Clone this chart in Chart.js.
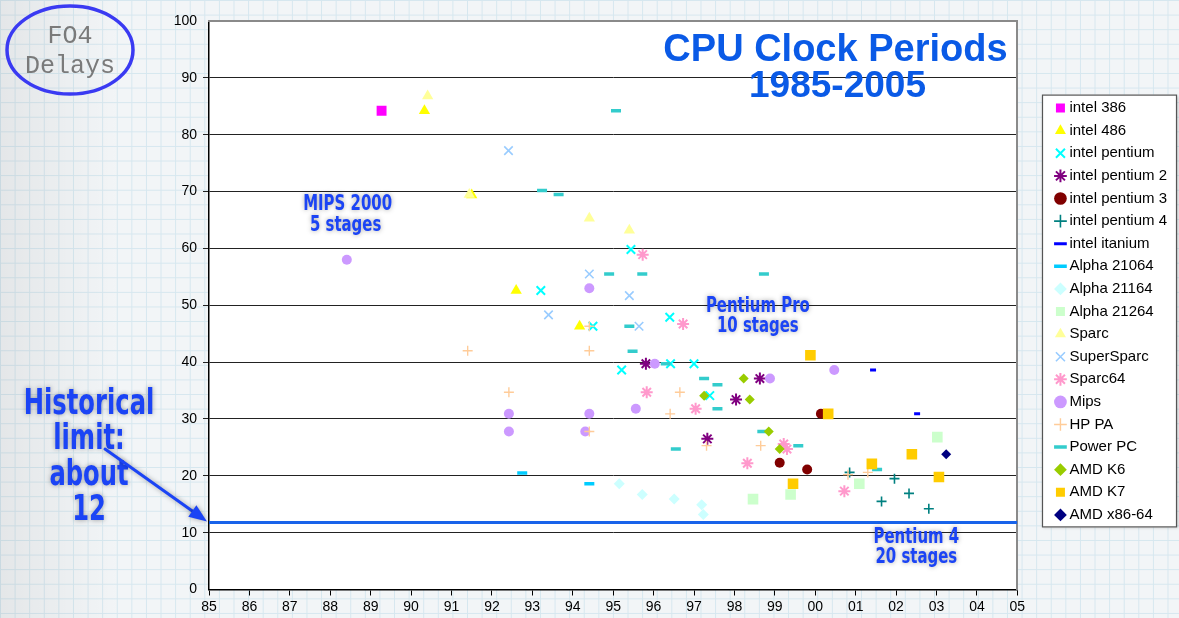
<!DOCTYPE html>
<html><head><meta charset="utf-8">
<script src="https://cdn.jsdelivr.net/npm/chart.js@4/dist/chart.umd.min.js"></script>
<style>
html,body{margin:0;padding:0;width:1179px;height:618px;overflow:hidden;}
body{background-color:#f2f5f7;
background-image:linear-gradient(90deg, rgba(0,0,0,0.06), rgba(0,0,0,0) 120px),linear-gradient(#d6e7ef 1px, transparent 1px),linear-gradient(90deg,#d6e7ef 1px, transparent 1px);
background-size:100% 100%,14.6px 14.6px,14.6px 14.6px;}
#wrap{position:relative;width:1179px;height:618px;}
</style></head><body><div id="wrap"><canvas id="c" width="1179" height="618"></canvas></div>
<script>
// ---- data (year in 2-digit form continuing past 99: 100 = 2000) ----
const yearLabels = ['85','86','87','88','89','90','91','92','93','94','95','96','97','98','99','00','01','02','03','04','05'];
const yTicks = [0,10,20,30,40,50,60,70,80,90,100];
const seriesNames = ['intel 386','intel 486','intel pentium','intel pentium 2','intel pentium 3','intel pentium 4','intel itanium','Alpha 21064','Alpha 21164','Alpha 21264','Sparc','SuperSparc','Sparc64','Mips','HP PA','Power PC','AMD K6','AMD K7','AMD x86-64'];
const intel386 = [[89.27,84.2]];
const intel486 = [[90.33,84.2],[91.5,69.4],[92.6,52.6],[94.17,46.3]];
const intelPentium = [[93.21,52.6],[94.5,46.3],[95.21,38.6],[95.44,59.8],[96.4,47.9],[96.42,39.7],[97.0,39.7],[97.39,34.1]];
const intelPentium2 = [[95.81,39.7],[98.63,37.1],[98.04,33.4],[97.33,26.5]];
const intelPentium3 = [[99.12,22.3],[99.8,21.1],[100.14,30.9]];
const intelPentium4 = [[100.85,20.6],[101.96,19.5],[101.64,15.5],[102.32,16.9],[102.81,14.2]];
const intelItanium = [[101.43,38.6],[102.52,30.9]];
const alpha21064 = [[92.75,20.5],[94.41,18.6]];
const alpha21164 = [[95.15,18.6],[95.72,16.7],[96.51,15.9],[97.19,14.9],[97.23,13.2]];
const alpha21264 = [[98.46,15.9],[99.39,16.7],[101.09,18.6],[103.02,26.8]];
const sparc = [[90.41,86.8],[91.44,69.5],[94.41,65.3],[95.4,63.2]];
const superSparc = [[92.41,77.2],[94.41,55.5],[95.4,51.7],[93.4,48.3],[95.64,46.3]];
const sparc64 = [[95.73,58.9],[96.73,46.7],[95.83,34.7],[97.04,31.8],[98.32,22.2],[99.22,25.6],[99.3,24.7],[100.72,17.3]];
const mips = [[88.41,58.0],[94.41,53.0],[92.42,30.9],[92.42,27.8],[94.41,30.9],[94.31,27.8],[95.56,31.8],[96.03,39.7],[98.88,37.1],[100.47,38.6]];
const hpPA = [[91.4,42.0],[92.42,34.7],[94.41,42.0],[94.41,46.3],[94.41,27.8],[96.65,34.7],[96.41,30.9],[97.31,25.3],[98.65,25.3],[100.81,20.2],[101.3,20.6]];
const powerPC = [[95.07,84.2],[93.24,70.2],[93.65,69.5],[94.9,55.5],[95.72,55.5],[98.73,55.5],[95.4,46.3],[95.48,41.9],[96.3,39.7],[97.25,37.1],[97.58,36.0],[97.58,31.8],[96.55,24.7],[98.69,27.8],[99.58,25.3],[101.53,21.1]];
const amdK6 = [[97.25,34.1],[98.23,37.1],[98.38,33.4],[98.85,27.8],[99.12,24.7]];
const amdK7 = [[99.88,41.2],[100.32,30.9],[99.45,18.6],[101.4,22.1],[102.39,23.8],[103.06,19.8]];
const amdX8664 = [[103.24,23.8]];
const historicalLimit = 11.8;

const seriesValues = [intel386,intel486,intelPentium,intelPentium2,intelPentium3,intelPentium4,intelItanium,alpha21064,alpha21164,alpha21264,sparc,superSparc,sparc64,mips,hpPA,powerPC,amdK6,amdK7,amdX8664];
// ---- styles ----
const seriesColors = ['#ff00ff','#ffff00','#00ffff','#800080','#800000','#008080','#0000ff','#00ccff','#ccffff','#ccffcc','#ffff99','#99ccff','#ff99cc','#cc99ff','#ffcc99','#33cccc','#99cc00','#ffcc00','#000080'];
const seriesStyles = ['rect','triangle','crossRot','star','circle','cross','line','line','rectRot','rect','triangle','crossRot','star','circle','cross','line','rectRot','rect','rectRot'];
const seriesRadius = [7,6.5,6,6,5,5,3,5,5.5,7.5,6.5,6,6,5,5,5,5,7.5,5];
const seriesBorder = [0,0,2,2,0,1.6,3,3.5,0,0,0,1.6,2,0,1.4,3.5,0,0,0];

const N = seriesNames.length;
const datasets = seriesNames.map((name,i)=>({
  label: name,
  data: seriesValues[i].map(p=>({x:p[0],y:p[1]})),
  pointStyle: seriesStyles[i],
  pointRadius: seriesRadius[i],
  pointHoverRadius: seriesRadius[i],
  backgroundColor: seriesColors[i],
  borderColor: seriesColors[i],
  pointBorderWidth: seriesBorder[i],
  borderWidth: seriesBorder[i],
  order: N - i
}));
datasets.push({
  type:'line', label:'limit', data:[{x:85,y:historicalLimit},{x:105,y:historicalLimit}],
  borderColor:'#1863ea', borderWidth:3, pointRadius:0, order:100
});

const FONT = '"Liberation Sans", Arial, Helvetica, sans-serif';
const HAND = '"DejaVu Sans Condensed", "Liberation Sans", sans-serif';
const BLUE = '#1b44f5';

function handText(ctx, t, x, y, sx){
  ctx.save(); ctx.translate(x,y); ctx.scale(sx,1); ctx.fillText(t,0,0); ctx.restore();
}

const deco = {
  id:'deco',
  beforeDraw(chart){
    const {ctx, chartArea:a} = chart;
    ctx.save(); ctx.fillStyle='#ffffff'; ctx.fillRect(a.left,a.top,a.right-a.left,a.bottom-a.top); ctx.restore();
    // legend box
    const lg = chart.legend; const hb = lg.legendHitBoxes;
    if (hb && hb.length){
      const top = hb[0].top - 6, bot = hb[hb.length-1].top + hb[hb.length-1].height + 5;
      const left = 1042, right = 1177;
      ctx.save();
      ctx.shadowColor='rgba(0,0,0,0.25)'; ctx.shadowBlur=3; ctx.shadowOffsetX=1; ctx.shadowOffsetY=1;
      ctx.fillStyle='#ffffff'; ctx.fillRect(left,top,right-left,bot-top);
      ctx.restore();
      ctx.save(); ctx.strokeStyle='#555'; ctx.lineWidth=1.2; ctx.strokeRect(left+0.5,top+0.5,right-left-1,bot-top-1); ctx.restore();
    }
  },
  afterDraw(chart){
    const {ctx} = chart; const xs = chart.scales.x, ys = chart.scales.y;
    const X = v=>xs.getPixelForValue(v), Y = v=>ys.getPixelForValue(v);
    ctx.save();
    // title
    ctx.fillStyle='#0a5ae6'; ctx.textAlign='center'; ctx.textBaseline='alphabetic';
    ctx.font='bold 38px '+FONT;
    ctx.fillText('CPU Clock Periods', X(100.5), Y(92.9));
    ctx.font='bold 37px '+FONT;
    ctx.fillText('1985-2005', X(100.55), Y(86.7));
    // annotations
    ctx.shadowColor='rgba(0,0,0,0.35)'; ctx.shadowBlur=5;
    ctx.fillStyle=BLUE; ctx.textBaseline='middle';
    ctx.font='bold 21px '+HAND;
    const s1 = 0.79;
    handText(ctx,'MIPS 2000', X(88.43), Y(67.7), s1);
    handText(ctx,'5 stages', X(88.38), Y(64.0), s1);
    handText(ctx,'Pentium Pro', X(98.58), Y(49.7), s1);
    handText(ctx,'10 stages', X(98.58), Y(46.2), s1);
    handText(ctx,'Pentium 4', X(102.5), Y(9.2), s1);
    handText(ctx,'20 stages', X(102.5), Y(5.7), s1);
    ctx.font='bold 35px '+HAND;
    handText(ctx,'Historical', 89, 405, 0.77);
    handText(ctx,'limit:', 89, 440, 0.77);
    handText(ctx,'about', 89, 476, 0.77);
    handText(ctx,'12', 89, 511, 0.77);
    // arrow
    const tx = X(85)-2, ty = Y(historicalLimit)-1, sx = 105, sy = 449;
    const ang = Math.atan2(ty-sy, tx-sx);
    ctx.strokeStyle=BLUE; ctx.lineWidth=3; ctx.lineCap='round';
    ctx.beginPath(); ctx.moveTo(sx,sy); ctx.lineTo(tx-12*Math.cos(ang), ty-12*Math.sin(ang)); ctx.stroke();
    ctx.beginPath(); ctx.moveTo(tx,ty);
    ctx.lineTo(tx-18*Math.cos(ang)+7*Math.sin(ang), ty-18*Math.sin(ang)-7*Math.cos(ang));
    ctx.lineTo(tx-18*Math.cos(ang)-7*Math.sin(ang), ty-18*Math.sin(ang)+7*Math.cos(ang));
    ctx.closePath(); ctx.fill();
    ctx.shadowColor='transparent'; ctx.shadowBlur=0;
    // FO4 ellipse
    ctx.strokeStyle='#3a3af2'; ctx.lineWidth=3.5;
    ctx.beginPath(); ctx.ellipse(70,50,63,44,0,0,Math.PI*2); ctx.stroke();
    ctx.fillStyle='#7a7a7a'; ctx.font='25px "Liberation Mono", "Courier New", monospace';
    ctx.fillText('FO4', 70, 36); ctx.fillText('Delays', 70, 66);
    ctx.restore();
  }
};

new Chart(document.getElementById('c'), {
  type:'scatter',
  data:{datasets},
  options:{
    responsive:false, animation:false, devicePixelRatio:1,
    layout:{padding:{left:169,top:5,right:2,bottom:0}},
    plugins:{
      tooltip:{enabled:false},
      legend:{
        position:'right', reverse:true,
        labels:{usePointStyle:true, boxWidth:3, boxHeight:9, padding:7.6, color:'#000',
          font:{family:FONT,size:15}, filter:(it)=>it.text!=='limit'}
      }
    },
    scales:{
      x:{type:'linear', min:85, max:105,
        afterFit(s){s.height=28.5;},
        afterBuildTicks(s){s.ticks = yearLabels.map((l,i)=>({value:85+i}));},
        ticks:{autoSkip:false, maxRotation:0, color:'#000', font:{family:FONT,size:14}, padding:3,
          callback:(v)=>yearLabels[Math.round(v-85)]},
        grid:{drawOnChartArea:false, tickLength:6, color:'#000'},
        border:{color:'#000', width:1.5}},
      y:{min:0, max:100,
        afterFit(s){s.width=40;},
        afterBuildTicks(s){s.ticks = yTicks.map(v=>({value:v}));},
        ticks:{color:'#000', font:{family:FONT,size:14}, padding:6},
        grid:{tickLength:6, color:(c)=> (c.tick && (c.tick.value===100||c.tick.value===0)) ? 'rgba(0,0,0,0)' : '#222', lineWidth:1},
        border:{color:'#000', width:1.5}},
      y2:{position:'right', min:0, max:100, display:true,
        afterFit(s){s.width=34;},
        ticks:{display:false}, grid:{drawOnChartArea:false, drawTicks:false},
        border:{display:true, color:'#8a8a8a', width:2}},
      x2:{position:'top', type:'linear', min:85, max:105, display:true,
        afterFit(s){s.height=16;},
        ticks:{display:false}, grid:{drawOnChartArea:false, drawTicks:false},
        border:{display:true, color:'#8a8a8a', width:2}}
    }
  },
  plugins:[deco]
});
</script></body></html>
